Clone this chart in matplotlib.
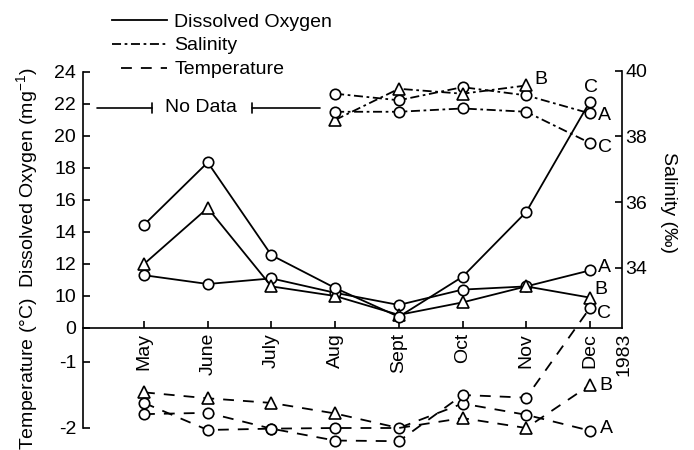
import numpy as np
import matplotlib
matplotlib.use("Agg")
import matplotlib.pyplot as plt
from matplotlib.lines import Line2D

plt.rcParams['font.family'] = ['Liberation Sans', 'DejaVu Sans']
plt.rcParams['mathtext.fontset'] = 'custom'
plt.rcParams['mathtext.rm'] = 'Liberation Sans'
plt.rcParams['mathtext.it'] = 'Liberation Sans:italic'
plt.rcParams['axes.unicode_minus'] = False

months = ['May', 'June', 'July', 'Aug', 'Sept', 'Oct', 'Nov', 'Dec']

# dissolved oxygen, stations A, B, C (left axis, broken between 0 and 10)
do_a = [11.3, 10.75, 11.1, 10.2, 7.2, 10.4, 10.6, 11.6]
do_b = [12.0, 15.5, 10.6, 10.0, 4.1, 8.0, 10.6, 9.5]
do_c = [14.45, 18.35, 12.55, 10.5, 3.5, 11.2, 15.25, 22.15]

# salinity, only sampled Aug - Dec (B stops in Nov)
sal_a = [39.3, 39.1, 39.5, 39.25, 38.7]
sal_b = [38.5, 39.45, 39.3, 39.55]
sal_c = [38.75, 38.75, 38.85, 38.75, 37.8]

# temperature, read on the lower part of the left axis
temp_a = [-1.79, -1.77, -2.01, -2.0, -2.0, -1.63, -1.8, -2.04]
temp_b = [-1.46, -1.55, -1.62, -1.78, -2.0, -1.85, -2.0, -1.35]
temp_c = [-1.62, -2.03, -2.01, -2.19, -2.2, -1.5, -1.54, 6.25]

left_ticks = [-2, -1, 0, 10, 12, 14, 16, 18, 20, 22, 24]
sal_ticks = [34, 36, 38, 40]

# piecewise scale of the left axis (value -> screen position)
val_knots = [-4, -2, -1, 0, 10, 24, 40]
pos_knots = [-232, -100, -34, 0, 32, 256, 512]


def fwd(v):
    return np.interp(v, val_knots, pos_knots)


def inv(p):
    return np.interp(p, pos_knots, val_knots)


fig = plt.figure(figsize=(6.94, 4.5), dpi=100)
ax = fig.add_axes([83 / 694, 0, 539 / 694, 395 / 450])
ax.patch.set_visible(False)
x = np.arange(len(months))

ax.set_yscale('function', functions=(fwd, inv))
ax.set_xlim(-0.958, 7.504)
ax.set_ylim(float(inv(-122)), float(inv(273)))

base = dict(color='black', lw=1.3, mfc='white', mec='black', mew=1.2, clip_on=False)
dashed = (0, (6, 5))
dashdot = (0, (5, 2, 1.5, 2))

ax.plot(x, do_a, marker='o', ms=7.5, **base)
ax.plot(x, do_b, marker='^', ms=8, **base)
ax.plot(x, do_c, marker='o', ms=7.5, **base)

ax.plot(x, temp_a, marker='o', ms=7.5, ls=dashed, **base)
ax.plot(x, temp_b, marker='^', ms=8, ls=dashed, markevery=[0, 1, 2, 3, 5, 6, 7], **base)
ax.plot(x, temp_c, marker='o', ms=7.5, ls=dashed, **base)

ax2 = ax.twinx()
ax2.set_ylim(28.447, 40.479)
ax2.plot(x[3:], sal_a, marker='o', ms=7.5, ls=dashdot, **base)
ax2.plot(x[3:7], sal_b, marker='^', ms=8, ls=dashdot, **base)
ax2.plot(x[3:], sal_c, marker='o', ms=7.5, ls=dashdot, **base)

# end-of-series station labels
lab = dict(textcoords='offset points', fontsize=14, va='center', ha='left')
ax.annotate('A', (x[-1], do_a[-1]), xytext=(6, 2), **lab)
ax.annotate('B', (x[-1], do_b[-1]), xytext=(3, 5.5), **lab)
ax.annotate('C', (x[-1], do_c[-1]), xytext=(1, 10.5), textcoords='offset points',
            fontsize=14, va='center', ha='center')
ax.annotate('C', (x[-1], temp_c[-1]), xytext=(5, -3.6), **lab)
ax.annotate('B', (x[-1], temp_b[-1]), xytext=(7, 0), **lab)
ax.annotate('A', (x[-1], temp_a[-1]), xytext=(7, 1.4), **lab)
ax2.annotate('B', (x[6], sal_b[-1]), xytext=(6, 4.3), **lab)
ax2.annotate('A', (x[-1], sal_a[-1]), xytext=(6, -1.2), **lab)
ax2.annotate('C', (x[-1], sal_c[-1]), xytext=(6, -3.2), **lab)

# "No Data" marker
nd_y = 21.75
bar = dict(arrowstyle='-[, widthB=0.35, lengthB=0', lw=1.2, color='black',
           shrinkA=0, shrinkB=0)
ax.annotate('', xy=(0.126, nd_y), xytext=(-0.738, nd_y), arrowprops=bar)
ax.annotate('', xy=(1.695, nd_y), xytext=(2.763, nd_y), arrowprops=bar)
ax.text(0.895, nd_y, 'No Data', ha='center', va='center', fontsize=14)

# spines / ticks
for s in ['top', 'right']:
    ax.spines[s].set_visible(False)
ax.spines['bottom'].set_position(('data', 0))
ax.spines['left'].set_bounds(-2, 24)
for s in ['top', 'left', 'bottom']:
    ax2.spines[s].set_visible(False)
ax2.spines['right'].set_bounds(32.16, 40)
for s in ax.spines.values():
    s.set_linewidth(1.2)
ax2.spines['right'].set_linewidth(1.2)

ax.set_yticks(left_ticks, [str(t) for t in left_ticks])
ax.set_xticks(x, months)
ax.tick_params(direction='in', length=5, width=1.2, labelsize=14)
ax.tick_params(axis='y', pad=5)
ax.tick_params(axis='x', pad=3.6, labelrotation=90)
ax2.set_yticks(sal_ticks, [str(t) for t in sal_ticks])
ax2.tick_params(direction='in', length=5, width=1.2, labelsize=14, pad=2.4)
ax.minorticks_off()

ax.annotate('1983', (7.53, 0), xytext=(0, -3.6), textcoords='offset points',
            rotation=90, ha='center', va='top', fontsize=14, annotation_clip=False)

fig.text(27.5 / 694, 1 - 258.5 / 450, 'Temperature (°C)  Dissolved Oxygen (mg$^{-1}$)',
         rotation=90, ha='center', va='center', fontsize=14)
fig.text(669 / 694, 1 - 202 / 450, 'Salinity (‰)', rotation=270,
         ha='center', va='center', fontsize=14)

handles = [Line2D([], [], color='black', lw=1.3),
           Line2D([], [], color='black', lw=1.3, ls=dashdot),
           Line2D([], [], color='black', lw=1.3, ls=(6, (6, 5)))]
fig.legend(handles, ['Dissolved Oxygen', 'Salinity', 'Temperature'],
           loc='upper left', bbox_to_anchor=(112 / 694, 0.971), frameon=False,
           fontsize=14, handlelength=2.85, handletextpad=0.35, labelspacing=0.32,
           borderpad=0, borderaxespad=0)

fig.savefig('out.png', dpi=100)
